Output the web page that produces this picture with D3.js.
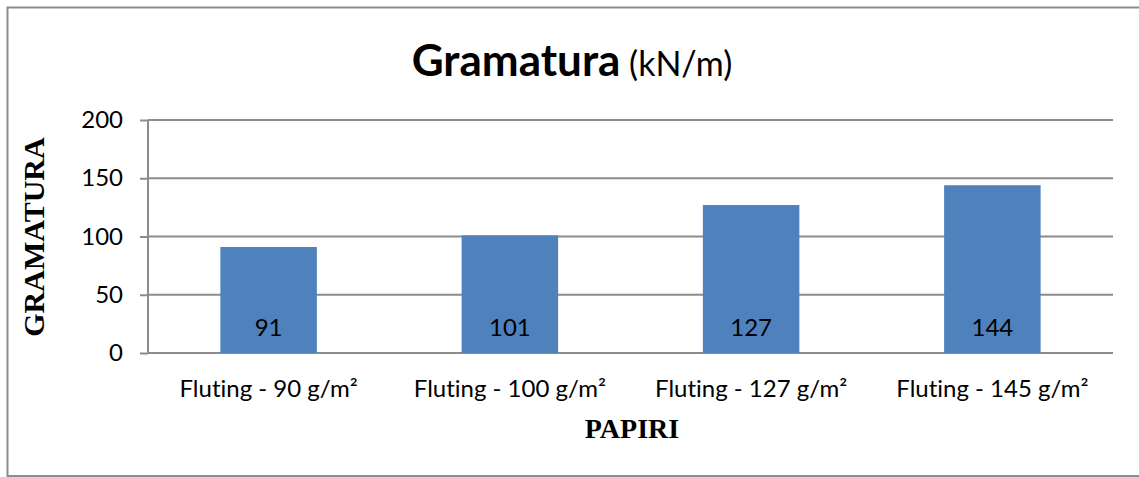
<!DOCTYPE html>
<html>
<head>
<meta charset="utf-8">
<script src="https://cdn.jsdelivr.net/npm/d3@7"></script>
<style>
  html, body { margin: 0; padding: 0; background: #fff; }
  svg { display: block; }
  text { font-variant-ligatures: none; }
</style>
</head>
<body>
<div id="chart"></div>
<script>
// data
const categories = ["Fluting - 90 g/m²", "Fluting - 100 g/m²", "Fluting - 127 g/m²", "Fluting - 145 g/m²"];
const values = [91, 101, 127, 144];
const yTicks = [0, 50, 100, 150, 200];

const width = 1139, height = 477;
const plotLeft = 148, plotRight = 1113, plotTop = 120, plotBottom = 353;
const sans = "Lato, 'Open Sans', sans-serif";
const serif = "'Liberation Serif', 'Times New Roman', serif";

const svg = d3.select("#chart").append("svg")
    .attr("width", width)
    .attr("height", height);

// chart border
svg.append("rect")
    .attr("x", 7.5).attr("y", 7.5)
    .attr("width", 1145).attr("height", 468.5)
    .attr("fill", "#fff")
    .attr("stroke", "#8c8c8c")
    .attr("stroke-width", 2);

const x = d3.scaleBand()
    .domain(categories)
    .range([plotLeft, plotRight])
    .paddingInner(0.6)
    .paddingOuter(0.3);

const y = d3.scaleLinear()
    .domain([0, 200])
    .range([plotBottom, plotTop]);

// gridlines
svg.append("g")
    .selectAll("line")
    .data(yTicks)
    .enter()
    .append("line")
    .attr("x1", plotLeft).attr("x2", plotRight)
    .attr("y1", d => y(d)).attr("y2", d => y(d))
    .attr("stroke", "#8c8c8c")
    .attr("stroke-width", 2);

// y axis
const yAxis = svg.append("g")
    .attr("transform", `translate(${plotLeft},0)`)
    .call(d3.axisLeft(y).tickValues(yTicks).tickSize(8).tickPadding(17));
yAxis.select(".domain").attr("stroke", "#8c8c8c").attr("stroke-width", 2)
    .attr("d", `M0,${plotTop}V${plotBottom}`);
yAxis.selectAll(".tick line").attr("stroke", "#8c8c8c").attr("stroke-width", 2);
yAxis.selectAll(".tick text")
    .attr("fill", "#000")
    .style("font-family", sans)
    .style("font-size", "24px");

// bars
svg.append("g")
    .selectAll("rect")
    .data(values)
    .enter()
    .append("rect")
    .attr("x", (d, i) => x(categories[i]))
    .attr("y", d => y(d))
    .attr("width", x.bandwidth())
    .attr("height", d => y(0) - y(d))
    .attr("fill", "#4f81bd");

// value labels
svg.append("g")
    .selectAll("text")
    .data(values)
    .enter()
    .append("text")
    .attr("x", (d, i) => x(categories[i]) + x.bandwidth() / 2)
    .attr("y", 336)
    .attr("text-anchor", "middle")
    .style("font-family", sans)
    .style("font-size", "24px")
    .attr("fill", "#000")
    .text(d => d);

// category labels
svg.append("g")
    .selectAll("text")
    .data(categories)
    .enter()
    .append("text")
    .attr("x", d => x(d) + x.bandwidth() / 2)
    .attr("y", 397)
    .attr("text-anchor", "middle")
    .style("font-family", sans)
    .style("font-size", "24px")
    .attr("fill", "#000")
    .text(d => d);

// title
const title = svg.append("text")
    .attr("x", 572)
    .attr("y", 76)
    .attr("text-anchor", "middle")
    .style("font-family", sans)
    .attr("fill", "#000");
title.append("tspan").style("font-weight", "bold").style("font-size", "44px").text("Gramatura");
title.append("tspan").style("font-size", "34px").text(" (kN/m)");

// axis titles
svg.append("text")
    .attr("x", 632)
    .attr("y", 438)
    .attr("text-anchor", "middle")
    .style("font-family", serif)
    .style("font-weight", "bold")
    .style("font-size", "28px")
    .attr("fill", "#000")
    .text("PAPIRI");

svg.append("text")
    .attr("transform", "translate(44,237) rotate(-90)")
    .attr("text-anchor", "middle")
    .style("font-family", serif)
    .style("font-weight", "bold")
    .style("font-size", "30px")
    .attr("fill", "#000")
    .text("GRAMATURA");
</script>
</body>
</html>
